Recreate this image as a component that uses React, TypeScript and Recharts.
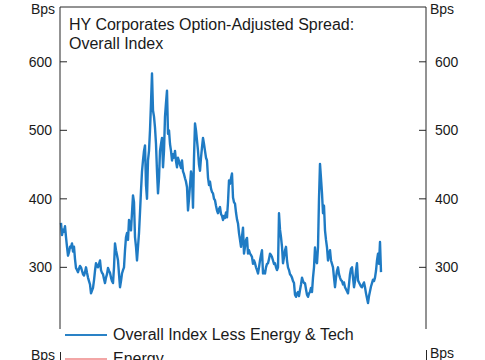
import { LineChart, Line, XAxis, YAxis, ReferenceLine } from "recharts";

// weekly OAS (bps), oldest first
const spread = [
  365, 347, 355, 352, 360, 344, 330, 317, 322, 330,
  329, 335, 323, 330, 312, 299, 296, 293, 298, 302,
  300, 295, 290, 288, 293, 300, 292, 285, 280, 275,
  262, 266, 270, 281, 295, 306, 302, 300, 305, 310,
  296, 292, 290, 283, 277, 285, 290, 299, 295, 292,
  285, 280, 277, 300, 335, 325, 318, 310, 290, 271,
  280, 291, 296, 300, 325, 344, 350, 340, 369, 360,
  354, 380, 405, 395, 344, 330, 310, 330, 350, 380,
  412, 440, 456, 470, 478, 420, 400, 456, 470, 500,
  540, 583, 529, 520, 504, 480, 440, 408, 430, 470,
  480, 489, 446, 470, 520, 540, 558, 495, 500, 480,
  470, 456, 465, 460, 470, 455, 446, 460, 455, 450,
  445, 456, 440, 436, 430, 425, 417, 383, 400, 420,
  440, 431, 387, 460, 510, 500, 485, 470, 450, 441,
  460, 475, 489, 480, 470, 460, 456, 431, 420, 425,
  415, 410, 408, 400, 398, 390, 383, 379, 385, 388,
  378, 375, 369, 375, 372, 380, 373, 395, 427, 422,
  430, 437, 402, 395, 393, 380, 370, 364, 350, 340,
  330, 345, 358, 320, 330, 340, 343, 320, 325, 320,
  318, 315, 305, 310, 306, 300, 296, 291, 300, 310,
  318, 325, 291, 295, 291, 300, 305, 306, 312, 320,
  318, 315, 310, 305, 306, 300, 296, 300, 379, 355,
  344, 330, 306, 315, 325, 330, 310, 300, 296, 290,
  288, 285, 280, 277, 260, 257, 262, 264, 258, 267,
  275, 285, 280, 277, 277, 268, 260, 257, 262, 264,
  270, 264, 285, 300, 329, 310, 306, 329, 400, 451,
  430, 408, 379, 390, 354, 340, 329, 310, 320, 325,
  310, 305, 300, 285, 271, 285, 295, 300, 290, 285,
  281, 280, 275, 278, 271, 268, 265, 262, 275, 290,
  298, 300, 285, 271, 280, 295, 306, 281, 278, 275,
  272, 271, 275, 278, 271, 262, 255, 248, 258, 265,
  272, 277, 282, 280, 285, 295, 310, 320, 305, 337,
  293,
];

const yTicks = [300, 400, 500, 600];
const titleLines = ["HY Corporates Option-Adjusted Spread:", "Overall Index"];
const legendLabels = ["Overall Index Less Energy & Tech", "Energy"];
const legendColors = ["#2a82c6", "#f3a6a6"];

const data = spread.map((v, i) => ({ week: i, spread: v }));

const FONT = '"Liberation Sans", Arial, sans-serif';
const INK = "#1a1a1a";
const AXIS = "#262626";

// ticks point inwards, labels sit outside the box
const LeftTick = (props: any) => {
  const { x, y, payload } = props;
  return (
    <g>
      <line x1={x} x2={x + 7} y1={y} y2={y} stroke={AXIS} />
      <text x={x - 8} y={y} dy={5} textAnchor="end" fontSize={14} fill={INK} fontFamily={FONT}>
        {payload.value}
      </text>
    </g>
  );
};

const RightTick = (props: any) => {
  const { x, y, payload } = props;
  return (
    <g>
      <line x1={x - 7} x2={x} y1={y} y2={y} stroke={AXIS} />
      <text x={x + 9} y={y} dy={5} textAnchor="start" fontSize={14} fill={INK} fontFamily={FONT}>
        {payload.value}
      </text>
    </g>
  );
};

export default function App() {
  const abs = (s: any) => ({ position: "absolute" as const, ...s });

  return (
    <div
      style={{
        position: "absolute",
        left: 0,
        top: 0,
        width: 485,
        height: 360,
        overflow: "hidden",
        background: "#fff",
        fontFamily: FONT,
        color: INK,
      }}
    >
      <LineChart
        width={485}
        height={360}
        data={data}
        margin={{ top: 7, right: 0, bottom: 31, left: 0 }}
      >
        <XAxis type="number" dataKey="week" domain={[-1, 365]} hide />
        <YAxis
          yAxisId="left"
          domain={[210, 680]}
          ticks={yTicks}
          width={60}
          tickSize={0}
          tickMargin={0}
          axisLine={{ stroke: AXIS }}
          tickLine={false}
          tick={<LeftTick />}
          allowDataOverflow
        />
        <YAxis
          yAxisId="right"
          orientation="right"
          domain={[210, 680]}
          ticks={yTicks}
          width={59}
          tickSize={0}
          tickMargin={0}
          axisLine={{ stroke: AXIS }}
          tickLine={false}
          tick={<RightTick />}
          allowDataOverflow
        />
        <ReferenceLine yAxisId="left" y={680} stroke={AXIS} />
        <Line
          yAxisId="left"
          type="linear"
          dataKey="spread"
          stroke="#1f7bc4"
          strokeWidth={2.4}
          strokeLinejoin="round"
          dot={false}
          isAnimationActive={false}
        />
      </LineChart>

      {/* axis unit labels */}
      <div style={abs({ left: 31, top: 2, fontSize: 14, lineHeight: "14px" })}>Bps</div>
      <div style={abs({ left: 430, top: 2, fontSize: 14, lineHeight: "14px" })}>Bps</div>

      {/* title */}
      <div style={abs({ left: 69, top: 15, fontSize: 16, lineHeight: "19px" })}>
        {titleLines.map((t) => (
          <div key={t}>{t}</div>
        ))}
      </div>

      {/* legend */}
      {legendLabels.map((label, i) => (
        <div key={label}>
          <div
            style={abs({
              left: 65,
              top: 334 + i * 24,
              width: 42,
              height: 2,
              background: legendColors[i],
            })}
          />
          <div style={abs({ left: 113, top: 325 + i * 24, fontSize: 16, lineHeight: "20px", whiteSpace: "nowrap" })}>
            {label}
          </div>
        </div>
      ))}

      {/* top of the next panel, cut off */}
      <div style={abs({ left: 31, top: 348, fontSize: 14, lineHeight: "14px" })}>Bps</div>
      <div style={abs({ left: 430, top: 346, fontSize: 14, lineHeight: "14px" })}>Bps</div>
      <div style={abs({ left: 60, top: 352, width: 1, height: 8, background: AXIS })} />
      <div style={abs({ left: 426, top: 350, width: 1, height: 10, background: AXIS })} />
    </div>
  );
}
